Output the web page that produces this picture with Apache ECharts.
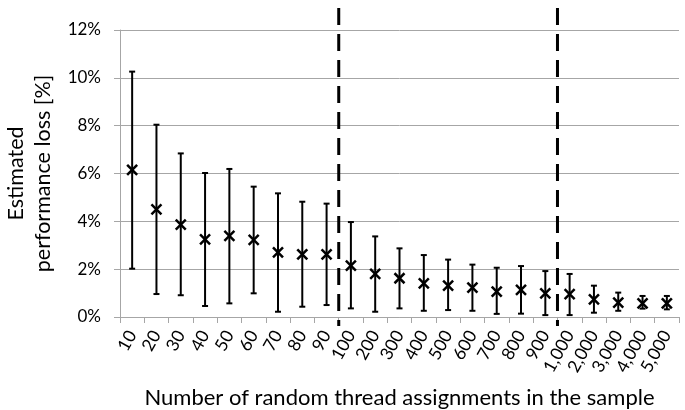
<!DOCTYPE html>
<html><head><meta charset="utf-8">
<script src="https://cdn.jsdelivr.net/npm/echarts@6/dist/echarts.min.js"></script>
<style>html,body{margin:0;padding:0;background:#fff}#c{width:685px;height:410px}</style>
</head><body><div id="c"></div>
<script>
const categories = ['10','20','30','40','50','60','70','80','90','100','200','300','400','500','600','700','800','900','1,000','2,000','3,000','4,000','5,000'];
const meanValues = [6.15,4.50,3.86,3.25,3.39,3.22,2.70,2.62,2.62,2.15,1.80,1.62,1.41,1.31,1.23,1.06,1.13,0.99,0.96,0.74,0.60,0.57,0.57];
const upperValues = [10.26,8.04,6.84,6.02,6.19,5.45,5.17,4.82,4.74,3.97,3.37,2.87,2.59,2.40,2.19,2.06,2.13,1.92,1.80,1.31,1.02,0.88,0.88];
const lowerValues = [2.02,0.96,0.91,0.46,0.57,0.99,0.22,0.43,0.50,0.36,0.22,0.36,0.26,0.29,0.26,0.13,0.14,0.08,0.08,0.18,0.26,0.35,0.32];
const yTicks = [0,2,4,6,8,10,12];
const groupBreaks = [9,18]; // dashed separators before these category indices

const font = 'Lato, "Open Sans", sans-serif';
const data = categories.map((c,i)=>[i, meanValues[i], upperValues[i], lowerValues[i]]);

const chart = echarts.init(document.getElementById('c'));
chart.setOption({
  animation:false,
  grid:{left:120, right:6, top:30, bottom:93, containLabel:false, outerBoundsMode:'none'},
  xAxis:{
    type:'category', data:categories, boundaryGap:true,
    axisLine:{lineStyle:{color:'#a6a6a6', width:1}},
    axisTick:{show:true, alignWithLabel:false, length:6, lineStyle:{color:'#a6a6a6'}},
    axisLabel:{rotate:61, color:'#000', fontFamily:font, fontSize:17.5, margin:15, interval:0},
    name:'Number of random thread assignments in the sample',
    nameLocation:'middle', nameGap:70,
    nameTextStyle:{fontFamily:font, fontSize:22, color:'#000'}
  },
  yAxis:{
    type:'value', min:yTicks[0], max:yTicks[yTicks.length-1], interval:2,
    axisLine:{show:true, lineStyle:{color:'#a6a6a6'}},
    axisTick:{show:true, length:6, lineStyle:{color:'#a6a6a6'}},
    splitLine:{lineStyle:{color:'#a6a6a6', width:1}},
    axisLabel:{formatter:v=>v+'%', color:'#000', fontFamily:font, fontSize:17, margin:19},
    name:'Estimated\nperformance loss [%]', nameLocation:'middle', nameGap:60, nameRotate:90,
    nameTextStyle:{fontFamily:font, fontSize:21.5, color:'#000', lineHeight:27}
  },
  series:[{
    type:'custom', data:data, clip:false,
    renderItem:function(params, api){
      const x = api.value(0);
      const m = api.coord([x, api.value(1)]);
      const hi = api.coord([x, api.value(2)]);
      const lo = api.coord([x, api.value(3)]);
      const cw = 3, s = 5;
      const st = {stroke:'#000', lineWidth:2};
      return {type:'group', children:[
        {type:'line', shape:{x1:m[0],y1:hi[1],x2:m[0],y2:lo[1]}, style:st},
        {type:'line', shape:{x1:m[0]-cw,y1:hi[1],x2:m[0]+cw,y2:hi[1]}, style:st},
        {type:'line', shape:{x1:m[0]-cw,y1:lo[1],x2:m[0]+cw,y2:lo[1]}, style:st},
        {type:'line', shape:{x1:m[0]-s,y1:m[1]-s,x2:m[0]+s,y2:m[1]+s}, style:{stroke:'#000', lineWidth:2.5}},
        {type:'line', shape:{x1:m[0]-s,y1:m[1]+s,x2:m[0]+s,y2:m[1]-s}, style:{stroke:'#000', lineWidth:2.5}}
      ]};
    }
  }]
});

// dashed separators located via the axis scale
const gr = groupBreaks.map(b=>{
  const a = chart.convertToPixel({xAxisIndex:0}, b-1);
  const c = chart.convertToPixel({xAxisIndex:0}, b);
  const x = (a+c)/2;
  return {type:'line', shape:{x1:x, y1:8, x2:x, y2:326}, style:{stroke:'#000', lineWidth:3, lineDash:[17,9]}, z:100};
});
chart.setOption({graphic:gr});
</script></body></html>
